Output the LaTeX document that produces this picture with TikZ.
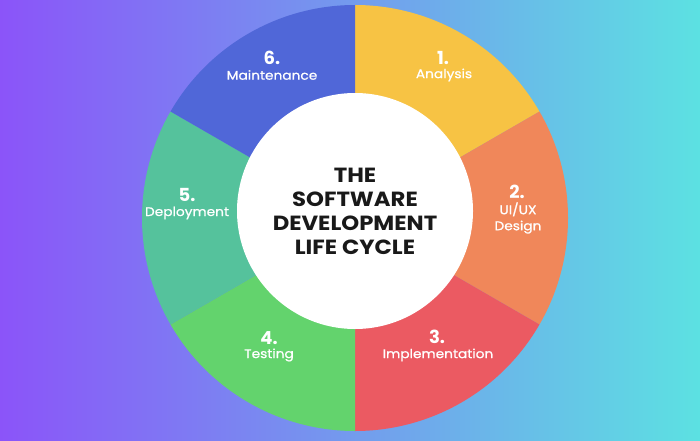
\documentclass[tikz,border=0pt]{standalone}
\usepackage{fontspec}
\setmainfont{Poppins}
\newfontfamily\hubfont[FakeStretch=1.11]{Poppins}
\newfontfamily\lblfont[FakeBold=0.8, FakeStretch=1.1]{Poppins}
\definecolor{bgleft}{HTML}{8B54F9}
\definecolor{bgright}{HTML}{5CE1E2}
\definecolor{segAnalysis}{HTML}{F7C344}
\definecolor{segDesign}{HTML}{F0875A}
\definecolor{segImpl}{HTML}{EB5A62}
\definecolor{segTest}{HTML}{63D36D}
\definecolor{segDeploy}{HTML}{55C29C}
\definecolor{segMaint}{HTML}{5067D8}
\begin{document}
\begin{tikzpicture}[
  x=1pt, y=1pt,
  num/.style={font=\bfseries\fontsize{18}{18}\selectfont, text=white},
  lbl/.style={font=\lblfont\fontsize{12.5}{16}\selectfont, text=white, align=center},
  hub/.style={font=\hubfont\bfseries\fontsize{20.5}{24}\selectfont, text=black!90, align=center}
]
\shade[left color=bgleft, right color=bgright] (0,0) rectangle (700,440);
\coordinate (c) at (355,222);
\foreach \col/\a in {segAnalysis/90, segDesign/30, segImpl/-30, segTest/-90, segDeploy/-150, segMaint/150}
  \fill[\col] (c) -- ++(\a:213) arc[start angle=\a, delta angle=-60, radius=213] -- cycle;
\fill[white] (355,229) circle[radius=118];
\node[hub] (hub) at (355,229) {THE\\SOFTWARE\\DEVELOPMENT\\LIFE CYCLE};
\node[num] (n1) at (443,382) {1.};
\node[lbl] (l1) at (444,365) {Analysis};
\node[num] (n2) at (517,248) {2.};
\node[lbl] (l2) at (518,222) {UI/UX\\Design};
\node[num] (n3) at (437,103) {3.};
\node[lbl] (l3) at (438,85) {Implementation};
\node[num] (n4) at (269,102) {4.};
\node[lbl] (l4) at (269,85) {Testing};
\node[num] (n5) at (187,245) {5.};
\node[lbl] (l5) at (187,227) {Deployment};
\node[num] (n6) at (272,382) {6.};
\node[lbl] (l6) at (272,365) {Maintenance};
\end{tikzpicture}
\end{document}
